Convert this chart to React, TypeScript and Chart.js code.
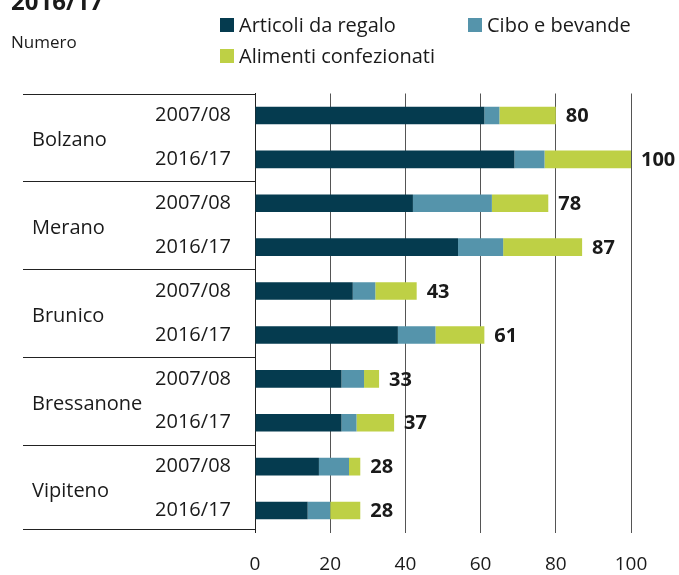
import React, { useEffect, useRef } from "react";
import { Chart, registerables } from "chart.js";

Chart.register(...registerables);

const groups = ["Bolzano", "Merano", "Brunico", "Bressanone", "Vipiteno"];
const periods = ["2007/08", "2016/17"];
const seriesNames = ["Articoli da regalo", "Cibo e bevande", "Alimenti confezionati"];
const articoliDaRegalo = [61, 69, 42, 54, 26, 38, 23, 23, 17, 14];
const ciboEBevande = [4, 8, 21, 12, 6, 10, 6, 4, 8, 6];
const alimentiConfezionati = [15, 23, 15, 21, 11, 13, 4, 10, 3, 8];
const xMin = 0;
const xMax = 100;
const xStep = 20;
const titleText = "2016/17";
const unitText = "Numero";

const seriesColors = ["#053B4F", "#5594AB", "#BED045"];
const FONT = "'Open Sans', 'Noto Sans', sans-serif";
const TEXT = "#1a1a1a";

const categories = groups.flatMap((g) => periods.map((p) => `${g}|${p}`));

const decorPlugin = {
  id: "decor",
  afterDraw(chart: any) {
    const { ctx, chartArea } = chart;
    const xs = chart.scales.x;
    const ys = chart.scales.y;
    ctx.save();

    // title (cut off at top) and unit
    ctx.fillStyle = TEXT;
    ctx.textBaseline = "alphabetic";
    ctx.textAlign = "left";
    ctx.font = `bold 24px ${FONT}`;
    ctx.fillText(titleText, 11, 10);
    ctx.font = `17px ${FONT}`;
    ctx.fillText(unitText, 11, 48);

    // legend
    const legendPos = [
      [220, 18],
      [468, 18],
      [220, 49],
    ];
    ctx.font = `20px ${FONT}`;
    chart.data.datasets.forEach((ds: any, i: number) => {
      const [lx, ly] = legendPos[i];
      ctx.fillStyle = ds.backgroundColor;
      ctx.fillRect(lx, ly, 14, 14);
      ctx.fillStyle = TEXT;
      ctx.fillText(ds.label, lx + 19, ly + 14);
    });

    // table separators
    ctx.strokeStyle = "#222";
    ctx.lineWidth = 1;
    for (let g = 0; g <= groups.length; g++) {
      let y: number;
      if (g === 0) y = chartArea.top;
      else if (g === groups.length) y = chartArea.bottom - 4;
      else y = (ys.getPixelForValue(g * 2 - 1) + ys.getPixelForValue(g * 2)) / 2;
      const yy = Math.round(y) + 0.5;
      ctx.beginPath();
      ctx.moveTo(23, yy);
      ctx.lineTo(chartArea.left, yy);
      ctx.stroke();
    }

    // group labels
    ctx.font = `20px ${FONT}`;
    ctx.textBaseline = "middle";
    ctx.fillStyle = TEXT;
    groups.forEach((g, gi) => {
      const y =
        (ys.getPixelForValue(gi * periods.length) +
          ys.getPixelForValue(gi * periods.length + periods.length - 1)) /
          2 +
        3;
      ctx.fillText(g, 32, y);
    });

    // totals
    ctx.font = `bold 20px ${FONT}`;
    categories.forEach((_, i) => {
      const total = chart.data.datasets.reduce((s: number, ds: any) => s + ds.data[i], 0);
      const x = xs.getPixelForValue(total) + 10;
      const y = ys.getPixelForValue(i);
      ctx.fillText(String(total), x, y + 1);
    });

    ctx.restore();
  },
};

export default function App() {
  const ref = useRef<HTMLCanvasElement | null>(null);

  useEffect(() => {
    document.body.style.margin = "0";
    const canvas = ref.current;
    if (!canvas) return;
    const chart = new Chart(canvas, {
      type: "bar",
      data: {
        labels: categories,
        datasets: [articoliDaRegalo, ciboEBevande, alimentiConfezionati].map((d, i) => ({
          label: seriesNames[i],
          data: d,
          backgroundColor: seriesColors[i],
          borderWidth: 0,
          barPercentage: 0.4,
          categoryPercentage: 1,
        })),
      },
      options: {
        indexAxis: "y",
        animation: false,
        responsive: false,
        devicePixelRatio: 1,
        layout: { padding: { top: 93.5, right: 48, left: 0, bottom: 0 } },
        plugins: {
          legend: { display: false },
          title: { display: false },
          tooltip: { enabled: false },
        },
        scales: {
          x: {
            stacked: true,
            min: xMin,
            max: xMax,
            ticks: {
              stepSize: xStep,
              padding: 21,
              color: TEXT,
              font: { family: FONT, size: 19 },
            },
            grid: { color: "#555", lineWidth: 1, drawTicks: false },
            border: { display: false },
            afterFit: (s: any) => {
              s.height = 42.5;
            },
          },
          y: {
            stacked: true,
            ticks: {
              padding: 24,
              color: TEXT,
              font: { family: FONT, size: 20 },
              callback: function (this: any, v: any) {
                const lab = String(this.getLabelForValue(v));
                return lab.split("|")[1];
              },
            },
            grid: { display: false, drawTicks: false },
            border: { display: true, color: "#222", width: 1 },
            afterFit: (s: any) => {
              s.width = 255;
            },
          },
        },
      },
      plugins: [decorPlugin],
    } as any);
    return () => chart.destroy();
  }, []);

  return (
    <div style={{ width: 679, height: 575 }}>
      <canvas ref={ref} width={679} height={575} style={{ display: "block" }} />
    </div>
  );
}
